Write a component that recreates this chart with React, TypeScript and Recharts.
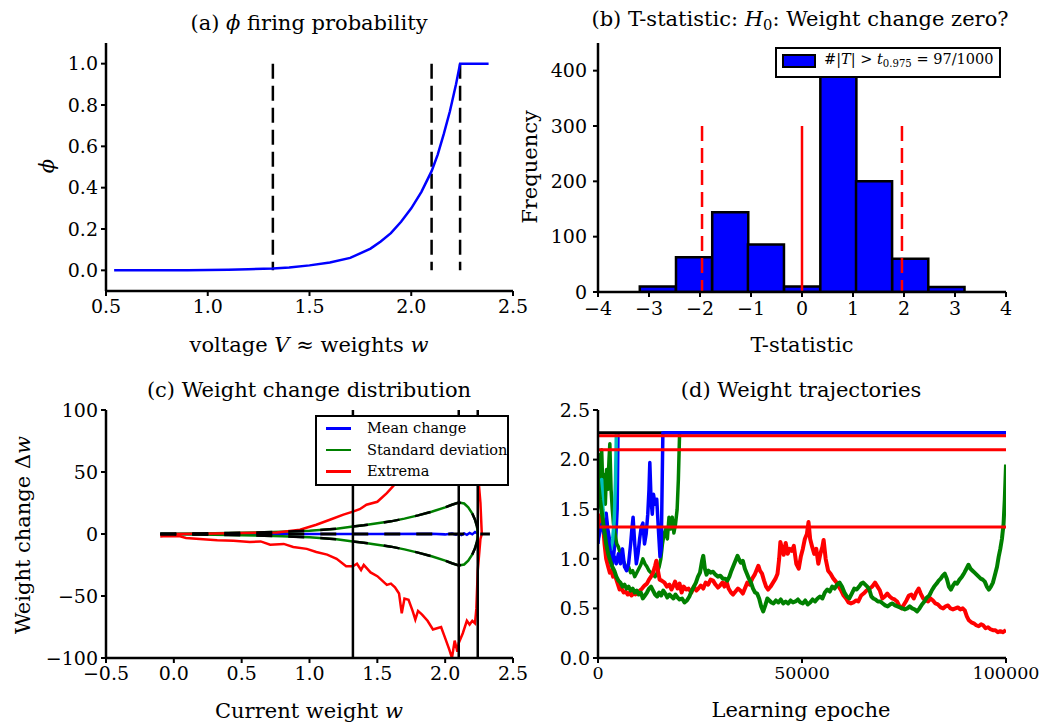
import React from "react";
import {
  LineChart,
  Line,
  XAxis,
  YAxis,
  ReferenceLine,
  ComposedChart,
  Bar,
  Rectangle,
} from "recharts";

const FONT = '"DejaVu Serif", "Liberation Serif", serif';

// (a) firing probability phi over voltage
const phiCurve: [number, number][] = [
  [0.54, 0], [0.7, 0.0005], [0.9, 0.001], [1.1, 0.003], [1.2, 0.005],
  [1.32, 0.009], [1.4, 0.014], [1.5, 0.024], [1.6, 0.038], [1.7, 0.06],
  [1.8, 0.105], [1.85, 0.14], [1.9, 0.18], [1.95, 0.235], [2.0, 0.3],
  [2.05, 0.38], [2.1, 0.48], [2.13, 0.56], [2.16, 0.66], [2.19, 0.77],
  [2.22, 0.9], [2.24, 1.0], [2.38, 1.0],
];
const thresholds = [1.32, 2.1, 2.24];

// (b) histogram of T statistics
const tBinCenters = [-2.83, -2.12, -1.41, -0.71, 0, 0.71, 1.41, 2.12, 2.83];
const tCounts = [10, 63, 144, 86, 10, 417, 200, 60, 9];
const tBinWidth = 0.707;
const tCritical = [-1.96, 1.96];
const tLineTop = 300;

// (c) weight change distribution
const meanChange: [number, number][] = [
  [-0.1, 0], [0.5, 0], [1.0, 0.1], [1.5, 0], [1.9, 0.2], [2.0, -0.3],
  [2.05, 0.4], [2.08, -0.5], [2.1, 0.3], [2.12, -0.8], [2.14, 0.5],
  [2.16, -0.6], [2.18, 0.9], [2.2, -0.3], [2.22, 1.5], [2.24, 0.2],
];
const zeroLine: [number, number][] = [[-0.1, 0], [2.33, 0]];
const stdUpper: [number, number][] = [
  [-0.1, 0.2], [0, 0.3], [0.2, 0.5], [0.4, 0.8], [0.6, 1.2], [0.8, 1.8],
  [1.0, 2.7], [1.1, 3.4], [1.2, 4.3], [1.32, 6], [1.4, 7], [1.5, 8.6],
  [1.6, 10.2], [1.7, 12.4], [1.8, 15], [1.9, 18], [2.0, 21.5], [2.05, 23.6],
  [2.1, 25.3], [2.14, 24.6], [2.17, 21.5], [2.2, 16.5], [2.22, 11.5],
  [2.235, 6], [2.24, 0],
];
const stdLower: [number, number][] = [
  [-0.1, -0.2], [0, -0.3], [0.2, -0.5], [0.4, -0.8], [0.6, -1.2], [0.8, -1.8],
  [1.0, -2.7], [1.1, -3.4], [1.2, -4.3], [1.32, -6], [1.4, -7], [1.5, -8.6],
  [1.6, -10.2], [1.7, -12.4], [1.8, -15], [1.9, -18], [2.0, -21.5], [2.05, -23.6],
  [2.1, -25.3], [2.14, -24.6], [2.17, -21.5], [2.2, -16.5], [2.22, -11.5],
  [2.235, -6], [2.24, 0],
];
const extrema: [number, number][] = [
  [-0.1, -0.5], [0, 0], [0.2, 0.3], [0.4, 0.6], [0.6, 1], [0.76, 1.3],
  [0.93, 3.5], [1.05, 7.5], [1.15, 11.5], [1.25, 15.6], [1.32, 18],
  [1.37, 20], [1.42, 23.6], [1.5, 26], [1.57, 33], [1.62, 39], [1.7, 48],
  [1.8, 58], [1.9, 70], [2.0, 82], [2.05, 92], [2.1, 86], [2.15, 78],
  [2.2, 70], [2.24, 55], [2.25, 38], [2.26, 25], [2.27, 0], [2.26, -4],
  [2.24, -30], [2.23, -60], [2.22, -72], [2.2, -70], [2.18, -73],
  [2.16, -70], [2.13, -80], [2.1, -88], [2.09, -95], [2.07, -86],
  [2.05, -100], [2.03, -93], [2.0, -84], [1.97, -75], [1.94, -76],
  [1.91, -77], [1.87, -70], [1.83, -65], [1.8, -62], [1.78, -69],
  [1.76, -62], [1.73, -53], [1.7, -52], [1.68, -64], [1.66, -48],
  [1.63, -43], [1.6, -40], [1.57, -41], [1.53, -37], [1.5, -34],
  [1.45, -31], [1.4, -25], [1.38, -29], [1.35, -24], [1.32, -26],
  [1.27, -26], [1.2, -20], [1.13, -16.6], [1.05, -14.5], [0.98, -12],
  [0.88, -10.5], [0.81, -8], [0.71, -8.6], [0.64, -6], [0.56, -6.5],
  [0.44, -5.4], [0.32, -5.1], [0.19, -4], [0.09, -3.2], [0.045, -1.9],
  [-0.08, -1.9], [-0.1, -2],
];

// (d) weight trajectories over learning epochs
const trajBlue1: [number, number][] = [
  [0, 1.15], [400, 1.3], [800, 1.42], [1200, 1.3], [1600, 1.38], [2000, 1.46],
  [2400, 1.3], [2800, 1.2], [3200, 1.05], [3600, 0.95], [4000, 1.1],
  [4400, 1.25], [4700, 1.5], [4900, 2.27],
];
const trajGreen1: [number, number][] = [
  [0, 1.9], [300, 2.05], [600, 1.6], [900, 2.1], [1200, 1.7], [1500, 1.85],
  [1800, 1.55], [2100, 1.9], [2400, 1.7], [2700, 2.0], [2900, 2.16],
  [3200, 1.7], [3500, 1.5], [3800, 1.35], [4200, 1.25], [4600, 1.15],
  [5000, 1.12], [5500, 1.05], [6000, 1.0], [6500, 0.95], [7000, 0.9],
  [7500, 0.92], [8000, 0.86], [8500, 0.88], [9000, 0.82], [9500, 0.86],
  [10000, 0.9], [10500, 0.94], [11000, 1.0], [11500, 0.95], [12000, 0.92],
  [12500, 0.88], [13000, 0.86], [13500, 0.84], [14000, 0.82], [14500, 0.86],
  [15000, 0.92], [15400, 1.0], [15800, 1.15], [16200, 1.25], [16600, 1.3],
  [17000, 1.2], [17400, 1.42], [17800, 1.3], [18200, 1.42], [18600, 1.26],
  [19000, 1.35], [19400, 1.5], [19700, 1.8], [20000, 2.27],
];
const trajRed: [number, number][] = [
  [0, 1.45], [400, 1.42], [800, 1.3], [1200, 1.36], [1600, 1.15], [2000, 1.0],
  [2500, 0.92], [2900, 0.86], [3300, 0.88], [3700, 0.82], [4100, 0.84],
  [4500, 0.79], [4900, 0.74], [5300, 0.69], [5800, 0.7], [6300, 0.66],
  [6800, 0.67], [7300, 0.64], [7800, 0.66], [8200, 0.63], [8700, 0.65],
  [9200, 0.64], [9800, 0.66], [10300, 0.68], [10800, 0.7], [11400, 0.73],
  [12000, 0.75], [12500, 0.79], [13000, 0.82], [13500, 0.86], [14000, 0.93],
  [14300, 0.98], [14700, 0.88], [15100, 0.79], [15600, 0.78], [16300, 0.76],
  [16900, 0.72], [17500, 0.74], [18000, 0.69], [18500, 0.73], [18900, 0.77],
  [19500, 0.7], [20000, 0.75], [20500, 0.66], [21000, 0.72], [21600, 0.69],
  [22200, 0.7], [22900, 0.66], [23500, 0.72], [24100, 0.68], [24600, 0.7],
  [25200, 0.73], [25800, 0.7], [26400, 0.76], [27000, 0.74], [27600, 0.79],
  [28200, 0.78], [28800, 0.74], [29400, 0.71], [29900, 0.73], [30500, 0.76],
  [31000, 0.72], [31500, 0.77], [32000, 0.7], [32600, 0.66], [33100, 0.64],
  [33700, 0.67], [34300, 0.7], [34900, 0.68], [35500, 0.65], [36000, 0.7],
  [36600, 0.76], [37200, 0.74], [37800, 0.8], [38400, 0.84], [39000, 0.9],
  [39300, 0.93], [39700, 0.88], [40200, 0.85], [40700, 0.78], [41200, 0.72],
  [41700, 0.69], [42300, 0.72], [42900, 0.76], [43500, 0.8], [44000, 0.85],
  [44400, 1.0], [44700, 1.17], [45000, 1.12], [45500, 1.04], [46000, 1.16],
  [46500, 1.05], [47000, 1.1], [47500, 1.08], [48000, 1.13], [48600, 0.95],
  [49200, 0.9], [49700, 1.02], [50200, 1.1], [50700, 1.2], [51200, 1.25],
  [51600, 1.37], [52000, 1.2], [52500, 1.12], [53000, 1.05], [53500, 1.1],
  [54000, 0.95], [54500, 1.05], [55000, 1.12], [55300, 1.19], [55800, 1.0],
  [56400, 0.88], [57000, 0.85], [57700, 0.8], [58300, 0.77], [59000, 0.72],
  [59600, 0.68], [60200, 0.63], [60800, 0.6], [61400, 0.56], [62000, 0.55],
  [62600, 0.56], [63200, 0.58], [63800, 0.57], [64500, 0.63], [65100, 0.65],
  [65800, 0.68], [66500, 0.7], [67200, 0.72], [67900, 0.76], [68500, 0.72],
  [69100, 0.68], [69700, 0.6], [70300, 0.62], [70900, 0.65], [71500, 0.62],
  [72100, 0.6], [72700, 0.59], [73300, 0.57], [73900, 0.52], [74400, 0.5],
  [75000, 0.54], [75600, 0.58], [76200, 0.63], [76800, 0.64], [77400, 0.6],
  [78000, 0.66], [78600, 0.7], [79100, 0.65], [79700, 0.6], [80300, 0.58],
  [80900, 0.57], [81500, 0.6], [82100, 0.58], [82700, 0.55], [83300, 0.54],
  [84000, 0.51], [84600, 0.5], [85200, 0.52], [85800, 0.53], [86400, 0.5],
  [87000, 0.49], [87600, 0.5], [88200, 0.51], [88800, 0.49], [89400, 0.5],
  [89900, 0.48], [90400, 0.42], [90900, 0.38], [91500, 0.36], [92100, 0.35],
  [92700, 0.33], [93300, 0.32], [93900, 0.34], [94400, 0.33], [95000, 0.3],
  [95600, 0.31], [96200, 0.29], [96800, 0.28], [97400, 0.28], [98000, 0.26],
  [98600, 0.27], [99200, 0.26], [100000, 0.28],
];
const trajCyan: [number, number][] = [
  [0, 1.5], [300, 1.75], [600, 1.6], [900, 1.8], [1200, 1.5], [1600, 1.3],
  [2000, 1.2], [2400, 1.15], [2800, 1.05], [3200, 1.1], [3600, 1.2],
  [4000, 1.4], [4300, 1.8], [4500, 2.27],
];
const trajBlack: [number, number][] = [[0, 2.27], [100000, 2.27]];
const trajBlue2: [number, number][] = [
  [0, 1.2], [500, 1.28], [1000, 1.35], [1500, 1.25], [2000, 1.4], [2500, 1.2],
  [3000, 1.08], [3500, 0.98], [4000, 1.02], [4500, 0.95], [5000, 1.05],
  [5500, 0.95], [6000, 1.1], [6500, 0.92], [7000, 0.88], [7500, 0.95],
  [8000, 1.15], [8300, 1.3], [8600, 1.42], [9000, 1.15], [9400, 0.95],
  [9800, 1.05], [10200, 1.2], [10600, 1.32], [11000, 1.36], [11400, 1.15],
  [11800, 1.25], [12200, 1.45], [12500, 1.7], [12700, 1.97], [13000, 1.6],
  [13300, 1.45], [13600, 1.65], [14000, 1.55], [14400, 1.6], [14800, 1.3],
  [15200, 1.02], [15500, 1.1], [15900, 2.27], [100000, 2.27],
];
const trajGreen2: [number, number][] = [
  [0, 1.8], [500, 1.6], [1000, 1.45], [1500, 1.3], [2000, 1.15], [2500, 1.05],
  [3000, 0.98], [3500, 0.92], [4000, 0.88], [4500, 0.82], [5000, 0.78],
  [5500, 0.76], [6000, 0.72], [6500, 0.74], [7000, 0.7], [7500, 0.72],
  [8000, 0.68], [8500, 0.7], [9000, 0.66], [9500, 0.68], [10000, 0.64],
  [10500, 0.66], [11000, 0.6], [11500, 0.63], [12000, 0.66], [12500, 0.7],
  [13000, 0.72], [13500, 0.68], [14000, 0.64], [14500, 0.62], [15000, 0.66],
  [15500, 0.63], [16000, 0.68], [16500, 0.65], [17000, 0.61], [17500, 0.64],
  [18000, 0.62], [18500, 0.6], [19000, 0.64], [19500, 0.61], [20000, 0.59],
  [20600, 0.6], [21200, 0.56], [21800, 0.58], [22400, 0.62], [23000, 0.68],
  [23500, 0.72], [24000, 0.76], [24500, 0.82], [25000, 0.86], [25500, 0.98],
  [25800, 1.03], [26200, 0.9], [26600, 0.84], [27100, 0.88], [27600, 0.86],
  [28200, 0.87], [28800, 0.84], [29400, 0.82], [30000, 0.83], [30600, 0.8],
  [31200, 0.8], [31700, 0.78], [32200, 0.82], [32700, 0.88], [33200, 0.93],
  [33700, 0.98], [34200, 1.03], [34600, 0.99], [35000, 0.96], [35500, 0.98],
  [36000, 0.9], [36500, 0.85], [37000, 0.8], [37500, 0.76], [38000, 0.7],
  [38500, 0.66], [39000, 0.65], [39500, 0.6], [40000, 0.52], [40500, 0.47],
  [41000, 0.53], [41500, 0.6], [42000, 0.58], [42500, 0.56], [43000, 0.55],
  [43600, 0.58], [44200, 0.56], [44800, 0.59], [45400, 0.55], [46000, 0.57],
  [46600, 0.55], [47200, 0.58], [47800, 0.56], [48400, 0.57], [49000, 0.59],
  [49600, 0.56], [50200, 0.55], [50800, 0.58], [51400, 0.54], [52000, 0.56],
  [52600, 0.59], [53200, 0.57], [53800, 0.6], [54400, 0.62], [55000, 0.6],
  [55600, 0.66], [56200, 0.69], [56800, 0.67], [57400, 0.72], [58000, 0.7],
  [58600, 0.74], [59200, 0.76], [59800, 0.72], [60400, 0.66], [61000, 0.62],
  [61600, 0.6], [62200, 0.65], [62800, 0.7], [63400, 0.69], [64000, 0.72],
  [64500, 0.75], [65000, 0.76], [65500, 0.74], [66000, 0.72], [66500, 0.69],
  [67000, 0.62], [67500, 0.6], [68000, 0.59], [68600, 0.57], [69200, 0.57],
  [69800, 0.55], [70400, 0.53], [71000, 0.52], [71600, 0.54], [72200, 0.55],
  [72800, 0.53], [73400, 0.52], [74000, 0.51], [74600, 0.5], [75200, 0.49],
  [75800, 0.5], [76400, 0.52], [77000, 0.5], [77600, 0.49], [78200, 0.47],
  [78800, 0.5], [79400, 0.54], [80000, 0.57], [80600, 0.61], [81200, 0.63],
  [81800, 0.68], [82400, 0.72], [83000, 0.75], [83500, 0.78], [84000, 0.8],
  [84500, 0.83], [85000, 0.85], [85500, 0.8], [86000, 0.72], [86500, 0.69],
  [87000, 0.73], [87500, 0.76], [88000, 0.75], [88600, 0.79], [89200, 0.82],
  [89800, 0.86], [90300, 0.9], [90800, 0.94], [91300, 0.9], [91800, 0.88],
  [92300, 0.86], [92800, 0.84], [93300, 0.82], [93800, 0.8], [94300, 0.79],
  [94800, 0.77], [95300, 0.72], [95800, 0.69], [96300, 0.72], [96800, 0.76],
  [97300, 0.84], [97800, 0.92], [98200, 1.02], [98600, 1.1], [99000, 1.2],
  [99400, 1.35], [99700, 1.6], [100000, 1.95],
];

const trajectories = [
  { pts: trajBlue1, color: "#0000ff", w: 3.5 },
  { pts: trajGreen1, color: "#008000", w: 3.5 },
  { pts: trajRed, color: "#ff0000", w: 4 },
  { pts: trajCyan, color: "#00bfbf", w: 3.5 },
  { pts: trajBlack, color: "#000000", w: 3 },
  { pts: trajBlue2, color: "#0000ff", w: 3.5 },
  { pts: trajGreen2, color: "#008000", w: 4 },
];

const ticksA = [0, 0.2, 0.4, 0.6, 0.8, 1.0];
const ticksAx = [0.5, 1.0, 1.5, 2.0, 2.5];
const ticksBx = [-4, -3, -2, -1, 0, 1, 2, 3, 4];
const ticksBy = [0, 100, 200, 300, 400];
const ticksCx = [-0.5, 0, 0.5, 1.0, 1.5, 2.0, 2.5];
const ticksCy = [-100, -50, 0, 50, 100];
const ticksDx = [0, 50000, 100000];
const ticksDy = [0, 0.5, 1.0, 1.5, 2.0, 2.5];

const toXY = (pts: [number, number][]) => pts.map(([x, y]) => ({ x, y }));
const minus = (s: string) => s.replace("-", "\u2212");
const fmt1 = (v: number) => minus(v.toFixed(1));
const fmtInt = (v: number) => minus(String(v));

const tickStyle = { fill: "#000", fontSize: 19, fontFamily: FONT };
const axisLine = { stroke: "#000", strokeWidth: 2.5 };
const tickLine = { stroke: "#000", strokeWidth: 2 };
const axisCommon = {
  type: "number" as const,
  interval: 0 as const,
  tick: tickStyle,
  axisLine,
  tickLine,
  tickSize: 5,
  allowDataOverflow: true,
};

const PLOT_W_B = 408;
const binPx = (tBinWidth * PLOT_W_B) / 8;
const histData = tBinCenters.map((c, i) => ({ center: c, count: tCounts[i] }));

// full-width histogram bin, centred on the bar position recharts gives
const BinShape = (props: any) => {
  const cx = props.x + props.width / 2;
  return <Rectangle {...props} x={cx - binPx / 2} width={binPx} />;
};

function Txt({ x, y, size = 21, children, rotate = false }: any) {
  return (
    <div
      style={{
        position: "absolute",
        left: x,
        top: y,
        fontSize: size,
        lineHeight: `${Math.round(size * 1.15)}px`,
        whiteSpace: "nowrap",
        transform: rotate ? "translate(-50%, -50%) rotate(-90deg)" : "translateX(-50%)",
        fontFamily: FONT,
        color: "#000",
      }}
    >
      {children}
    </div>
  );
}

const sub = { fontSize: "0.7em", verticalAlign: "-0.25em", lineHeight: 0 };

export default function App() {
  return (
    <div
      style={{
        position: "absolute",
        left: 0,
        top: 0,
        width: 1039,
        height: 727,
        background: "#fff",
        overflow: "hidden",
        fontFamily: FONT,
      }}
    >
      {/* (a) */}
      <div style={{ position: "absolute", left: 0, top: 0 }}>
        <LineChart width={545} height={363} margin={{ top: 43, right: 32, bottom: 42, left: 46 }}>
          <XAxis {...axisCommon} dataKey="x" domain={[0.5, 2.5]} ticks={ticksAx} tickFormatter={fmt1} tickMargin={4} height={30} />
          <YAxis {...axisCommon} domain={[-0.1, 1.1]} ticks={ticksA} tickFormatter={fmt1} tickMargin={3} width={60} />
          {thresholds.map((t) => (
            <ReferenceLine
              key={t}
              segment={[{ x: t, y: 1 }, { x: t, y: 0 }]}
              stroke="#000"
              strokeWidth={2.5}
              strokeDasharray="15 7"
            />
          ))}
          <Line data={toXY(phiCurve)} dataKey="y" stroke="#0000ff" strokeWidth={2.5} dot={false} activeDot={false} isAnimationActive={false} />
        </LineChart>
      </div>
      <Txt x={309} y={11}>(a) <i>ϕ</i> firing probability</Txt>
      <Txt x={309} y={333}>voltage <i>V</i> ≈ weights <i>w</i></Txt>
      <Txt x={47} y={166} rotate><i>ϕ</i></Txt>

      {/* (b) */}
      <div style={{ position: "absolute", left: 520, top: 0 }}>
        <ComposedChart
          width={519}
          height={363}
          data={histData}
          margin={{ top: 43, right: 33, bottom: 41, left: 18 }}
          barCategoryGap={0}
          barGap={0}
        >
          <XAxis {...axisCommon} dataKey="center" domain={[-4, 4]} ticks={ticksBx} tickFormatter={fmtInt} tickMargin={5} height={30} />
          <YAxis {...axisCommon} domain={[0, 450]} ticks={ticksBy} tickFormatter={fmtInt} tickMargin={6} width={60} />
          <Bar
            dataKey="count"
            fill="#0000ff"
            stroke="#000"
            strokeWidth={2.5}
            shape={BinShape}
            isAnimationActive={false}
          />
          {tCritical.map((t) => (
            <ReferenceLine
              key={t}
              segment={[{ x: t, y: tLineTop }, { x: t, y: 0 }]}
              stroke="#ff0000"
              strokeWidth={2.5}
              strokeDasharray="15 7"
            />
          ))}
          <ReferenceLine segment={[{ x: 0, y: 0 }, { x: 0, y: tLineTop }]} stroke="#ff0000" strokeWidth={2.5} />
        </ComposedChart>
      </div>
      <Txt x={800} y={7}>
        (b) T-statistic: <i>H</i><span style={sub}>0</span>: Weight change zero?
      </Txt>
      <Txt x={802} y={333}>T-statistic</Txt>
      <Txt x={530} y={167} rotate>Frequency</Txt>
      <div
        style={{
          position: "absolute",
          left: 775,
          top: 47,
          width: 222,
          height: 27,
          border: "2.5px solid #000",
          background: "#fff",
        }}
      >
        <div
          style={{
            position: "absolute",
            left: 5,
            top: 5,
            width: 30,
            height: 10,
            background: "#0000ff",
            border: "2px solid #000",
          }}
        />
        <div style={{ position: "absolute", left: 47, top: 1, fontSize: 14.5, lineHeight: "18px", whiteSpace: "nowrap" }}>
          #|<i>T</i>| &gt; <i>t</i><span style={sub}>0.975</span> = 97/1000
        </div>
      </div>

      {/* (c) */}
      <div style={{ position: "absolute", left: 0, top: 363 }}>
        <LineChart width={545} height={364} margin={{ top: 47, right: 32, bottom: 39, left: 46 }}>
          <XAxis {...axisCommon} dataKey="x" domain={[-0.5, 2.5]} ticks={ticksCx} tickFormatter={fmt1} tickMargin={4} height={30} />
          <YAxis {...axisCommon} domain={[-100, 100]} ticks={ticksCy} tickFormatter={fmtInt} tickMargin={3} width={60} />
          <Line data={toXY(meanChange)} dataKey="y" stroke="#0000ff" strokeWidth={2.5} dot={false} activeDot={false} isAnimationActive={false} />
          <Line data={toXY(stdUpper)} dataKey="y" stroke="#008000" strokeWidth={2.5} dot={false} activeDot={false} isAnimationActive={false} />
          <Line data={toXY(stdLower)} dataKey="y" stroke="#008000" strokeWidth={2.5} dot={false} activeDot={false} isAnimationActive={false} />
          <Line data={toXY(extrema)} dataKey="y" stroke="#ff0000" strokeWidth={2.5} dot={false} activeDot={false} isAnimationActive={false} />
          <Line data={toXY(stdUpper)} dataKey="y" stroke="#000" strokeWidth={2.5} strokeDasharray="16 16" dot={false} activeDot={false} isAnimationActive={false} />
          <Line data={toXY(stdLower)} dataKey="y" stroke="#000" strokeWidth={2.5} strokeDasharray="16 16" dot={false} activeDot={false} isAnimationActive={false} />
          <Line data={toXY(zeroLine)} dataKey="y" stroke="#000" strokeWidth={3} strokeDasharray="16 16" dot={false} activeDot={false} isAnimationActive={false} />
          {thresholds.map((t) => (
            <ReferenceLine key={t} x={t} stroke="#000" strokeWidth={2.5} />
          ))}
        </LineChart>
      </div>
      <Txt x={309} y={378}>(c) Weight change distribution</Txt>
      <Txt x={309} y={699}>Current weight <i>w</i></Txt>
      <Txt x={23} y={535} rotate>Weight change Δ<i>w</i></Txt>
      <div
        style={{
          position: "absolute",
          left: 315,
          top: 415,
          width: 190,
          height: 67,
          border: "2.5px solid #000",
          background: "#fff",
          fontSize: 14.5,
        }}
      >
        {[
          { label: "Mean change", color: "#0000ff" },
          { label: "Standard deviation", color: "#008000" },
          { label: "Extrema", color: "#ff0000" },
        ].map((e, i) => (
          <div key={e.label}>
            <div
              style={{
                position: "absolute",
                left: 9,
                top: 10 + i * 21.5,
                width: 25,
                height: 2.5,
                background: e.color,
              }}
            />
            <div
              style={{
                position: "absolute",
                left: 50,
                top: 1 + i * 21.5,
                lineHeight: "20px",
                whiteSpace: "nowrap",
              }}
            >
              {e.label}
            </div>
          </div>
        ))}
      </div>

      {/* (d) */}
      <div style={{ position: "absolute", left: 520, top: 363 }}>
        <LineChart width={519} height={364} margin={{ top: 47, right: 33, bottom: 39, left: 18 }}>
          <XAxis
            {...axisCommon}
            dataKey="x"
            domain={[0, 100000]}
            ticks={ticksDx}
            tickFormatter={fmtInt}
            tick={{ ...tickStyle, fontSize: 17.5 }}
            tickMargin={4}
            height={30}
          />
          <YAxis {...axisCommon} domain={[0, 2.5]} ticks={ticksDy} tickFormatter={fmt1} tickMargin={3} width={60} />
          {trajectories.map((t, i) => (
            <Line
              key={i}
              data={toXY(t.pts)}
              dataKey="y"
              stroke={t.color}
              strokeWidth={t.w}
              strokeLinejoin="round"
              dot={false}
              activeDot={false}
              isAnimationActive={false}
            />
          ))}
          {thresholds.map((t) => (
            <ReferenceLine key={t} y={t} stroke="#ff0000" strokeWidth={3} />
          ))}
        </LineChart>
      </div>
      <Txt x={801} y={378}>(d) Weight trajectories</Txt>
      <Txt x={801} y={698}>Learning epoche</Txt>
    </div>
  );
}
